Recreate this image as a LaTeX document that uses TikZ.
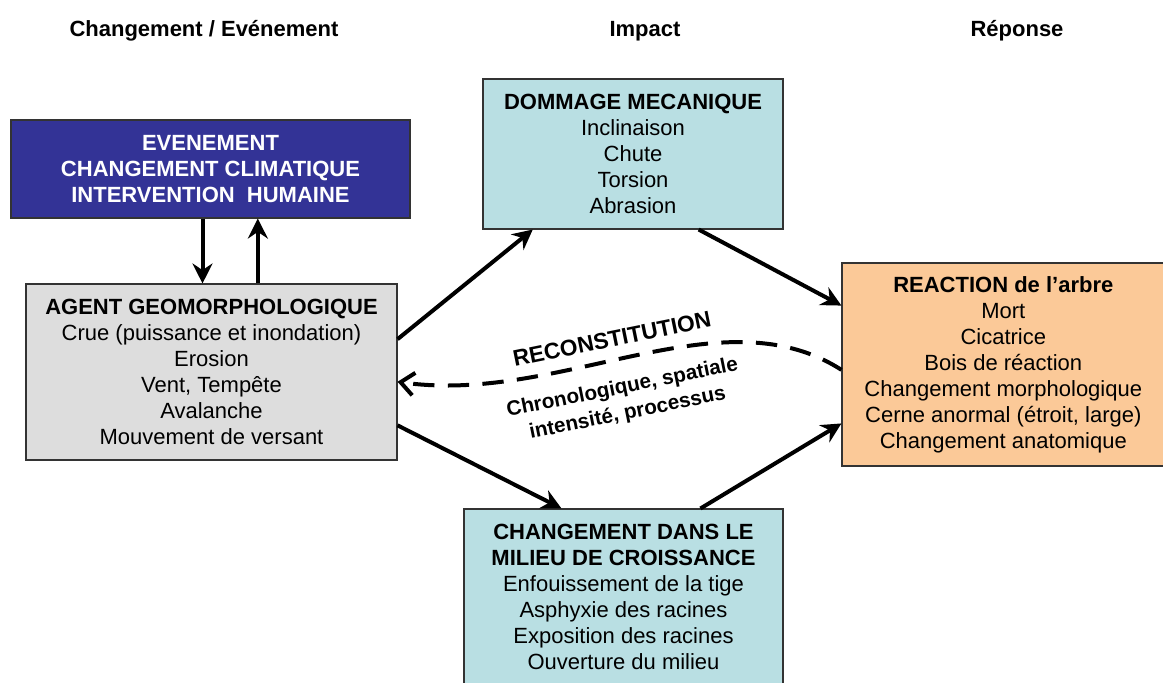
\documentclass[tikz,border=0pt]{standalone}
\usepackage{fontspec}
\setmainfont{Liberation Sans}
\usetikzlibrary{arrows.meta, calc}
\definecolor{evtblue}{RGB}{51,51,150}
\definecolor{agentgrey}{RGB}{221,221,221}
\definecolor{impactcyan}{RGB}{185,223,227}
\definecolor{reactorange}{RGB}{251,201,152}

\begin{document}
\begin{tikzpicture}[
    x=0.75pt, y=-0.75pt,
    box/.style={draw=black!80, line width=0.8pt, align=center, inner sep=0pt, font=\fontsize{16.5}{19.5}\selectfont},
    head/.style={font=\fontsize{16.5}{20}\selectfont\bfseries, anchor=base},
    arrow/.style={-{Stealth[length=15pt, width=15pt, inset=5pt]}, line width=3pt},
    back/.style={-{Straight Barb[length=10pt, width=17pt]}, line width=3pt, dash pattern=on 16pt off 10pt},
]
    \useasboundingbox (0,0) rectangle (1163,682);

    % column headers
    \node[head] (hchg) at (204,36) {Changement / Evénement};
    \node[head] (himp) at (645,36) {Impact};
    \node[head] (hrep) at (1017,36) {Réponse};

    \node[box, fill=evtblue, text=white, font=\fontsize{16.5}{19.5}\selectfont\bfseries,
          minimum width=299.25pt, minimum height=73.5pt] (event) at (210.5,169)
        {EVENEMENT\\CHANGEMENT CLIMATIQUE\\INTERVENTION\ \ HUMAINE};
    \node[box, fill=agentgrey, minimum width=278.25pt, minimum height=132pt] (agent) at (211.5,372)
        {\textbf{AGENT GEOMORPHOLOGIQUE}\\Crue (puissance et inondation)\\Erosion\\Vent, Tempête\\Avalanche\\Mouvement de versant};

    \node[box, fill=impactcyan, minimum width=225pt, minimum height=112.5pt] (dommage) at (633,154)
        {\textbf{DOMMAGE MECANIQUE}\\Inclinaison\\Chute\\Torsion\\Abrasion};
    \node[box, fill=impactcyan, minimum width=239.25pt, minimum height=132pt] (milieu) at (623.5,597)
        {\textbf{CHANGEMENT DANS LE}\\\textbf{MILIEU DE CROISSANCE}\\Enfouissement de la tige\\Asphyxie des racines\\Exposition des racines\\Ouverture du milieu};

    \node[box, fill=reactorange, minimum width=242pt, minimum height=152.25pt] (reaction) at (1003.3,364.5)
        {\textbf{REACTION de l'arbre}\\Mort\\Cicatrice\\Bois de réaction\\Changement morphologique\\Cerne anormal (étroit, large)\\Changement anatomique};

    % event <-> agent
    \draw[arrow] ([xshift=-6pt]event.south) -- ([xshift=-6pt]event.south |- agent.north);
    \draw[arrow] ([xshift=35.5pt]event.south |- agent.north) -- ([xshift=35.5pt]event.south);

    \draw[arrow] (agent.10) -- (dommage.217);
    \draw[arrow] (dommage.-49) -- (reaction.160);
    \draw[arrow] (agent.-16) -- (milieu.125);
    \draw[arrow] (milieu.49) -- (reaction.200);

    % reconstitution
    \draw[back] ([yshift=-4pt]reaction.west) .. controls (720,292) and (560,405) .. (agent.-3);
    \node[rotate=11.5, font=\fontsize{17}{20}\selectfont\bfseries] (recon) at (612,339) {RECONSTITUTION};
    \node[rotate=11.5, align=center, font=\fontsize{15.5}{19.5}\selectfont\bfseries] (recdet) at (625,401)
        {Chronologique, spatiale\\intensité, processus};
\end{tikzpicture}
\end{document}
